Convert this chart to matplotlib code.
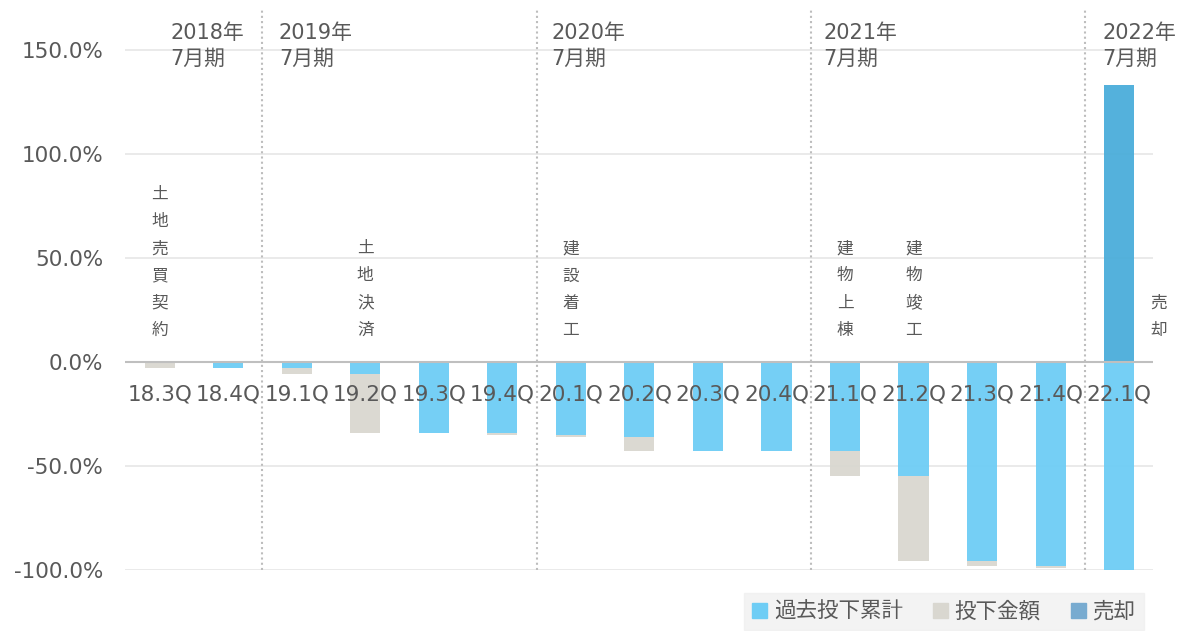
import numpy as np
import matplotlib
matplotlib.use('Agg')
import matplotlib.pyplot as plt
from matplotlib.patches import Patch

plt.rcParams['font.family'] = ['DejaVu Sans', 'Noto Sans CJK JP']

quarters = ['18.3Q', '18.4Q', '19.1Q', '19.2Q', '19.3Q', '19.4Q', '20.1Q', '20.2Q',
            '20.3Q', '20.4Q', '21.1Q', '21.2Q', '21.3Q', '21.4Q', '22.1Q']
# cumulative past investment (%)
past = [0, -3, -3, -6, -34, -34, -35, -36, -43, -43, -43, -55, -96, -98, -100]
# investment in the quarter (%)
invest = [-3, 0, -3, -28, 0, -1, -1, -7, 0, 0, -12, -41, -2, -1, 0]
# sale (%)
sale = [0, 0, 0, 0, 0, 0, 0, 0, 0, 0, 0, 0, 0, 0, 133]

fy_labels = ['2018年\n7月期', '2019年\n7月期', '2020年\n7月期', '2021年\n7月期', '2022年\n7月期']
fy_pos = [0.16, 1.74, 5.72, 9.69, 13.75]
fy_lines = [1.5, 5.5, 9.5, 13.5]

events = ['土地売買契約', '土地決済', '建設着工', '建物上棟', '建物竣工', '売却']
event_pos = [0, 3, 6, 10, 11, 14.57]

c_past = '#6ECDF5'
c_inv = '#D9D7D0'
c_sale = '#4BADDA'
txt = '#595959'

fig = plt.figure(figsize=(11.94, 6.31), dpi=100)
ax = fig.add_axes([0.105, 0.097, 0.861, 0.89])

x = np.arange(len(quarters))
w = 0.44
past = np.array(past)
invest = np.array(invest)
ax.bar(x, past, w, color=c_past, alpha=0.95, zorder=2)
ax.bar(x, invest, w, bottom=past, color=c_inv, alpha=0.95, zorder=2)
ax.bar(x, sale, w, color=c_sale, alpha=0.95, zorder=2)

ax.set_xlim(-0.5, len(quarters) - 0.5)
ax.set_ylim(-100, 170)
ax.set_yticks([-100, -50, 0, 50, 100, 150])
ax.set_yticklabels([f'{v:.1f}%' for v in [-100, -50, 0, 50, 100, 150]])
ax.tick_params(axis='y', length=0, labelsize=15.5, labelcolor=txt, pad=16)
ax.set_xticks([])
for s in ax.spines.values():
    s.set_visible(False)
for v in [-100, -50, 50, 100, 150]:
    ax.axhline(v, color='#E6E6E6', lw=1.2, zorder=1)
ax.axhline(0, color='#BFBFBF', lw=1.5, zorder=3)

for xv in fy_lines:
    ax.axvline(xv, color='#BDBDBD', lw=1.5, ls=(0, (1, 1.5)), zorder=1)

for lab, p in zip(fy_labels, fy_pos):
    ax.text(p, 163, lab, ha='left', va='top', fontsize=15, color=txt, linespacing=1.35)

for q, xi in zip(quarters, x):
    ax.text(xi, -15.5, q, ha='center', va='center', fontsize=15.5, color=txt, zorder=4)

for ev, p in zip(events, event_pos):
    ax.text(p, 11, '\n'.join(ev), ha='center', va='bottom', fontsize=12,
            color=txt, linespacing=1.66)

handles = [Patch(color=c_past, label='過去投下累計'),
           Patch(color=c_inv, label='投下金額'),
           Patch(color='#78ABD0', label='売却')]
leg = fig.legend(handles=handles, loc='lower right', bbox_to_anchor=(0.967, -0.016),
                 ncol=3, frameon=True, fontsize=15.5, handlelength=0.7,
                 handleheight=0.7, handletextpad=0.3, columnspacing=1.4,
                 borderpad=0.4, fancybox=False)
leg.get_frame().set_facecolor('#F0F0F0')
leg.get_frame().set_edgecolor('#F0F0F0')
for t in leg.get_texts():
    t.set_color(txt)

fig.savefig('out.png', dpi=100)
